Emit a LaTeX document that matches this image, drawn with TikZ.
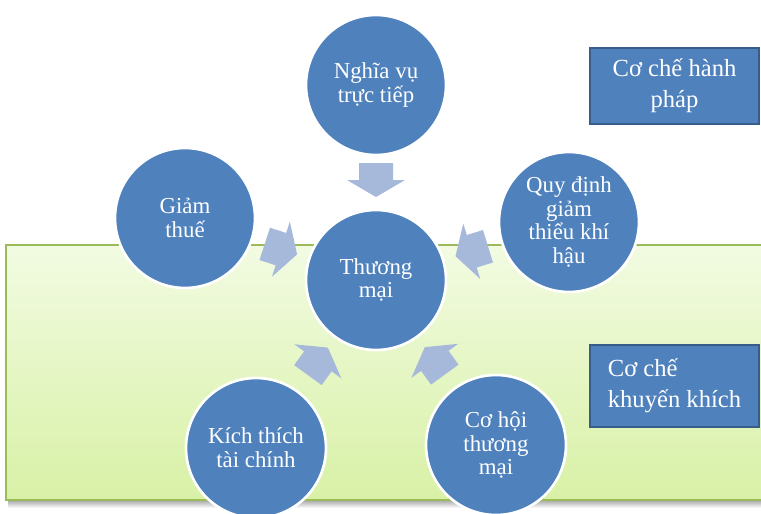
\documentclass[tikz,border=0pt]{standalone}
\usepackage{fontspec}
\setmainfont{Liberation Serif}
\usetikzlibrary{calc}

\definecolor{circblue}{RGB}{79,129,189}
\definecolor{boxline}{RGB}{56,93,138}
\definecolor{arrblue}{RGB}{167,185,219}
\definecolor{greenline}{RGB}{155,187,89}
\definecolor{greentop}{RGB}{242,251,226}
\definecolor{greenbot}{RGB}{216,241,166}

\begin{document}
\begin{tikzpicture}[x=0.02cm, y=-0.02cm,
  circ/.style={circle,fill=circblue,draw=white,line width=1.5pt,minimum size=2.8cm,inner sep=0pt,align=center,text=white,font=\fontsize{13}{13.5}\selectfont},
  boxnode/.style={rectangle,fill=circblue,draw=boxline,line width=1.5pt,minimum width=3.38cm,minimum height=1.52cm,text=white,font=\fontsize{14}{17.5}\selectfont},
  arr/.style={fill=arrblue}]
  \useasboundingbox (0,0) rectangle (761,514);
  \clip (0,0) rectangle (761,514);
  \shade[top color=black!35, bottom color=white] (8,500) rectangle (775,508);
  \shade[top color=greentop, bottom color=greenbot] (6,245) rectangle (775,500);
  \draw[greenline, line width=0.8pt] (6,245) rectangle (775,500);

  \node[circ] (tm) at (376,280) {Thương\\mại};
  \node[circ] (nv) at (376,85)  {Nghĩa vụ\\trực tiếp};
  \node[circ] (gt) at (185,218) {Giảm\\thuế};
  \node[circ] (qd) at (569,222) {Quy định\\giảm\\thiểu khí\\hậu};
  \node[circ] (kt) at (256,448) {Kích thích\\tài chính};
  \node[circ] (ch) at (496,445) {Cơ hội\\thương\\mại};

  \foreach \src/\ang in {nv/-90, gt/-18, qd/197, kt/54, ch/126}
    \fill[arr, shift={($(tm)!2cm!(\src)$)}, rotate=\ang]
      (-0.34cm,-0.34cm) -- (0cm,-0.34cm) -- (0cm,-0.58cm) -- (0.34cm,0cm)
      -- (0cm,0.58cm) -- (0cm,0.34cm) -- (-0.34cm,0.34cm) -- cycle;

  \node[boxnode, align=center] (hp) at (674.5,86) {Cơ chế hành\\pháp};
  \node[boxnode, align=left, minimum height=1.64cm] (kk) at (674.5,386) {Cơ chế\\khuyến khích};
\end{tikzpicture}
\end{document}
